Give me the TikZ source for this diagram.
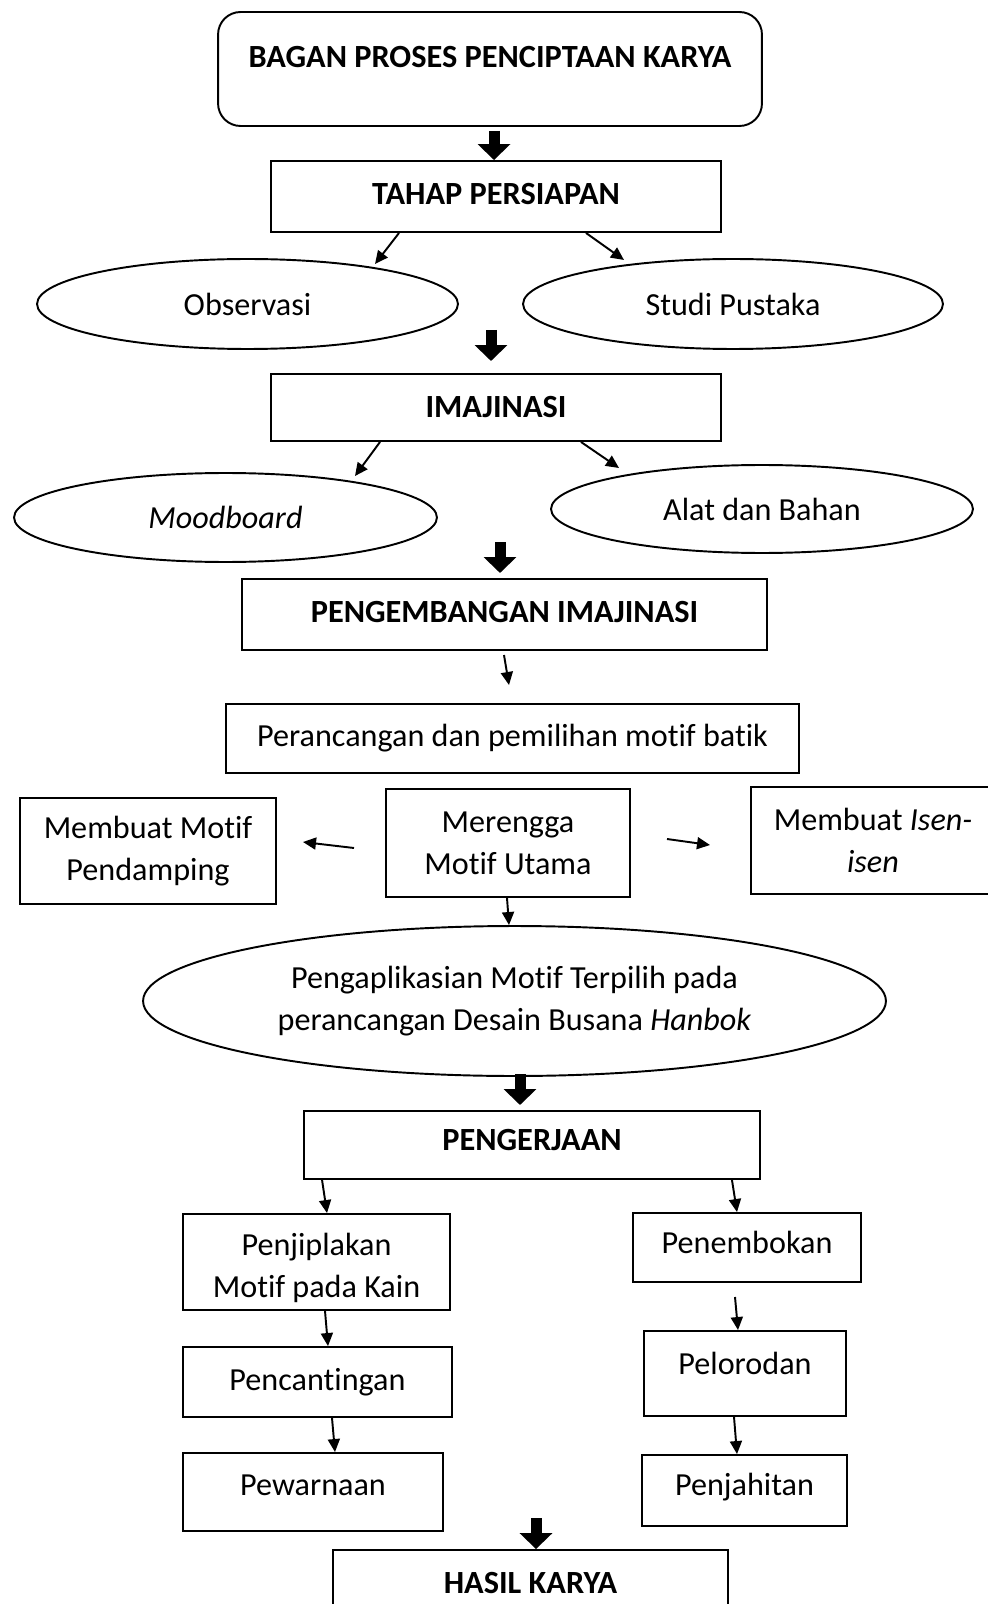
\documentclass[tikz,border=0pt]{standalone}
\usepackage{fontspec}
\setmainfont{Carlito}[Ligatures={NoCommon,NoContextual}]
\usetikzlibrary{calc,shapes.geometric,arrows.meta}
\newcommand{\teks}{\fontsize{18.3}{24}\selectfont}
\newcommand{\teksb}{\fontsize{18.4}{24}\selectfont\bfseries}

\begin{document}
\begin{tikzpicture}[x=0.02cm, y=-0.02cm, line width=1.1pt,
    kotak/.style={draw, rectangle, inner sep=0pt, align=center, font=\teks},
    tebal/.style={kotak, font=\teksb},
    elip/.style={draw, ellipse, inner sep=0pt, align=center, font=\teks},
    panah/.style={-{Triangle[width=0.24cm,length=0.26cm]}},
    blok/.style={line width=0.22cm, -{Triangle[width=0.64cm,length=0.32cm]}}]
    \useasboundingbox (0,0) rectangle (987,1604);

    % Kotak judul (Title box)
    \node[tebal, rounded corners=0.45cm, minimum width=10.88cm, minimum height=2.28cm, text depth=0.48cm] (judul) at (490,69) {BAGAN PROSES PENCIPTAAN KARYA};

    % Tahap persiapan dan imajinasi (Preparation and imagination)
    \node[tebal, minimum width=9cm, minimum height=1.42cm, text depth=0.1cm] (tahap) at (496,196.5) {TAHAP PERSIAPAN};
    \node[elip, minimum width=8.42cm, minimum height=1.8cm] (obs) at (247.5,304) {Observasi};
    \node[elip, minimum width=8.4cm, minimum height=1.8cm] (studi) at (733,304) {Studi Pustaka};
    \node[tebal, minimum width=9cm, minimum height=1.34cm] (imaj) at (496,407.5) {IMAJINASI};
    \node[elip, minimum width=8.46cm, minimum height=1.78cm, font=\teks\itshape] (mood) at (225.5,517.5) {Moodboard};
    \node[elip, minimum width=8.44cm, minimum height=1.76cm] (alat) at (762,509) {Alat dan Bahan};

    % Pengembangan imajinasi (Developing the imagination)
    \node[tebal, minimum width=10.5cm, minimum height=1.42cm, text depth=0.1cm] (kembang) at (504.5,614.5) {PENGEMBANGAN IMAJINASI};
    \node[kotak, minimum width=11.46cm, minimum height=1.38cm] (rancang) at (512.5,738.5) {Perancangan dan pemilihan motif batik};
    \node[kotak, minimum width=4.88cm, minimum height=2.16cm] (merengga) at (508,843) {Merengga\\Motif Utama};
    \node[kotak, minimum width=5.12cm, minimum height=2.12cm] (damping) at (148,851) {Membuat Motif\\Pendamping};
    \node[kotak, minimum width=4.9cm, minimum height=2.14cm] (isen) at (873,840.5) {Membuat \textit{Isen-}\\\textit{isen}};
    \node[elip, minimum width=14.86cm, minimum height=3cm] (aplikasi) at (514.5,1001) {Pengaplikasian Motif Terpilih pada\\perancangan Desain Busana \textit{Hanbok}};

    % Pengerjaan (Production)
    \node[tebal, minimum width=9.12cm, minimum height=1.36cm, text depth=0.2cm] (kerja) at (532,1145) {PENGERJAAN};
    \node[kotak, minimum width=5.34cm, minimum height=1.92cm] (jiplak) at (316.5,1262) {\rule{0pt}{0.69cm}Penjiplakan\\Motif pada Kain};
    \node[kotak, minimum width=5.38cm, minimum height=1.4cm] (canting) at (317.5,1382) {Pencantingan};
    \node[kotak, minimum width=5.2cm, minimum height=1.56cm, text depth=0.28cm] (warna) at (313,1492) {Pewarnaan};
    \node[kotak, minimum width=4.56cm, minimum height=1.38cm, text depth=0.2cm] (tembok) at (747,1247.5) {Penembokan};
    \node[kotak, minimum width=4.04cm, minimum height=1.7cm, text depth=0.4cm] (lorod) at (745,1373.5) {Pelorodan};
    \node[kotak, minimum width=4.1cm, minimum height=1.42cm, text depth=0.25cm] (jahit) at (744.5,1490.5) {Penjahitan};
    \node[tebal, minimum width=7.9cm, minimum height=1.32cm] (hasil) at (530.5,1583) {HASIL KARYA};

    % Ujung panah bebas (Free arrow ends)
    \coordinate (b1) at (494,131);
    \coordinate (b2a) at (491,330);
    \coordinate (b2b) at (491,361);
    \coordinate (b3a) at (500,542);
    \coordinate (b3b) at (500,573);
    \coordinate (b4a) at (520,1074);
    \coordinate (b4b) at (520,1105);
    \coordinate (b5) at (536,1518);
    \coordinate (o1) at (375,264);
    \coordinate (s1) at (624,260);
    \coordinate (m1) at (355,476);
    \coordinate (a1) at (619,468);
    \coordinate (k1) at (504,655);
    \coordinate (k2) at (509,685);
    \coordinate (l1) at (354,848);
    \coordinate (l2) at (303,842);
    \coordinate (r1) at (667,839);
    \coordinate (r2) at (710,845);
    \coordinate (t1) at (735,1297);

    % Panah tebal (Block arrows)
    \draw[blok] (b1) -- (b1 |- tahap.north);
    \draw[blok] (b2a) -- (b2b);
    \draw[blok] (b3a) -- (b3b);
    \draw[blok] (b4a) -- (b4b);
    \draw[blok] (b5) -- (b5 |- hasil.north);

    % Panah tipis (Thin arrows)
    \draw[panah] ([xshift=-1.94cm]tahap.south) -- (o1);
    \draw[panah] ([xshift=1.8cm]tahap.south) -- (s1);
    \draw[panah] ([xshift=-2.32cm]imaj.south) -- (m1);
    \draw[panah] ([xshift=1.7cm]imaj.south) -- (a1);
    \draw[panah] (k1) -- (k2);
    \draw[panah] (l1) -- (l2);
    \draw[panah] (r1) -- (r2);
    \draw[panah] ([xshift=-0.02cm]merengga.south) -- ([xshift=-0.11cm]aplikasi.north);
    \draw[panah] ([xshift=-4.2cm]kerja.south) -- ([xshift=0.21cm]jiplak.north);
    \draw[panah] ([xshift=4cm]kerja.south) -- ([xshift=-0.2cm]tembok.north);
    \draw[panah] ([xshift=0.17cm]jiplak.south) -- ([xshift=0.21cm]canting.north);
    \draw[panah] ([xshift=0.29cm]canting.south) -- ([xshift=0.44cm]warna.north);
    \draw[panah] (t1) -- ([xshift=-0.14cm]lorod.north);
    \draw[panah] ([xshift=-0.22cm]lorod.south) -- ([xshift=-0.15cm]jahit.north);

\end{tikzpicture}
\end{document}
